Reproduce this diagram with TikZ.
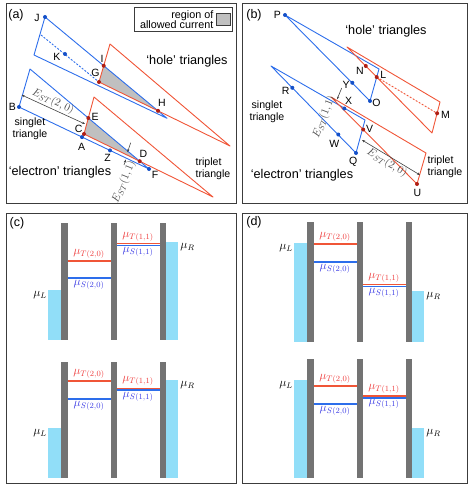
\documentclass[tikz,border=0pt]{standalone}
\usepackage[no-math]{fontspec}
\setmainfont{Liberation Sans}
\usetikzlibrary{arrows.meta}
\definecolor{tblue}{RGB}{45,110,235}
\definecolor{tred}{RGB}{240,85,55}
\definecolor{dotblue}{RGB}{20,80,200}
\definecolor{dotred}{RGB}{175,30,20}
\definecolor{regiongray}{RGB}{192,192,192}
\definecolor{bargray}{RGB}{115,115,115}
\definecolor{leadcyan}{RGB}{145,222,248}
\definecolor{lblred}{RGB}{238,60,60}
\definecolor{lblblue}{RGB}{60,60,228}
\definecolor{framegray}{RGB}{60,60,60}
\newcommand\dqdlevels[8]{%
  \fill[lead] (48,#3) rectangle (61,#2);
  \fill[lead] (166,#4) rectangle (178,#2);
  \fill[barrier] (61,#1) rectangle (67.5,#2);
  \fill[barrier] (110.5,#1) rectangle (117,#2);
  \fill[barrier] (159.5,#1) rectangle (166,#2);
  \draw[tline] (67.5,#5) -- (110.5,#5);
  \draw[sline] (67.5,#6) -- (110.5,#6);
  \draw[tline] (117,#7) -- (159.5,#7);
  \draw[sline] (117,#8) -- (159.5,#8);
  \node[mulabel,text=lblred] (tA) at (89,#5-7) {$\mu_{T(2,0)}$};
  \node[mulabel,text=lblblue] (sA) at (89,#6+7) {$\mu_{S(2,0)}$};
  \node[mulabel,text=lblred] (tB) at (138,#7-7) {$\mu_{T(1,1)}$};
  \node[mulabel,text=lblblue] (sB) at (138,#8+6.5) {$\mu_{S(1,1)}$};
  \node[mulabel] (muL) at (40,#3+5) {$\mu_L$};
  \node[mulabel] (muR) at (187.5,#4+5) {$\mu_R$};
}
\begin{document}
\begin{tikzpicture}[x=1pt,y=-1pt,
  frame/.style={draw=framegray,line width=0.9pt},
  bluetri/.style={draw=tblue,line width=0.9pt,line join=round},
  redtri/.style={draw=tred,line width=0.9pt,line join=round},
  bdot/.style={circle,fill=dotblue,inner sep=0pt,minimum size=4pt},
  rdot/.style={circle,fill=dotred,inner sep=0pt,minimum size=4pt},
  ptlabel/.style={font=\fontsize{10.5}{12}\selectfont,inner sep=0pt},
  biglabel/.style={font=\fontsize{12.7}{14}\selectfont,inner sep=0pt},
  smalllabel/.style={font=\fontsize{10.6}{12.5}\selectfont,inner sep=0pt},
  panellabel/.style={font=\fontsize{12.5}{14}\selectfont,inner sep=0pt},
  gap/.style={draw=black!75,line width=0.6pt,{Stealth[length=3pt,width=2.4pt]}-{Stealth[length=3pt,width=2.4pt]}},
  gapone/.style={draw=black!75,line width=0.6pt,-{Stealth[length=3pt,width=2.4pt]}},
  estlabel/.style={font=\fontsize{11}{13}\selectfont,inner sep=0pt,text=black!70},
  barrier/.style={fill=bargray},
  lead/.style={fill=leadcyan},
  tline/.style={draw=tred,line width=1.6pt},
  sline/.style={draw=tblue,line width=1.6pt},
  mulabel/.style={font=\fontsize{12}{14}\selectfont,inner sep=0pt},
]
\useasboundingbox (0,0) rectangle (471,484);
% ---------------- frames
\draw[frame] (6.5,3) rectangle (236,203);
\draw[frame] (242,3) rectangle (467,203);
\draw[frame] (6.5,213) rectangle (236,483);
\draw[frame] (242,213) rectangle (467,483);
\node[panellabel] (la) at (16,15) {(a)};
\node[panellabel] (lb) at (254,15) {(b)};
\node[panellabel] (lc) at (17,223) {(c)};
\node[panellabel] (ld) at (254,222) {(d)};

% ================= panel (a): hole triangles
\coordinate (hJv) at (45,17);
\coordinate (hBL) at (34,55);
\coordinate (hTip) at (167,118.3);
\coordinate (hrTop) at (110,44);
\coordinate (hG) at (99,82);
\coordinate (hrTip) at (230,146);
\coordinate (hDs) at (41,35);
\coordinate (hI) at (intersection of hrTop--hG and hJv--hTip);
\coordinate (hH) at (intersection of hG--hrTip and hJv--hTip);
\fill[regiongray] (hG) -- (hI) -- (hH) -- cycle;
\draw[bluetri] (hJv) -- (hBL) -- (hTip) -- cycle;
\draw[redtri] (hrTop) -- (hG) -- (hrTip) -- cycle;
\draw[bluetri,dash pattern=on 2pt off 1.5pt] (hDs) -- (hG);
\node[bdot] (J) at (hJv) {};
\node[bdot] (K) at (65,54) {};
\node[rdot] (I) at (hI) {};
\node[rdot] (G) at (hG) {};
\node[rdot] (H) at (hH) {};
\node[ptlabel] (Jl) at (37,18) {J};
\node[ptlabel] (Kl) at (57,57) {K};
\node[ptlabel] (Il) at (102,58.5) {I};
\node[ptlabel] (Gl) at (95.5,73) {G};
\node[ptlabel] (Hl) at (162,103) {H};
\node[biglabel] (holeA) at (187,61) {‘hole’ triangles};

% ================= panel (a): electron triangles
\coordinate (eTop) at (30,69);
\coordinate (eBv) at (19,107);
\coordinate (eFv) at (149,169);
\coordinate (erTop) at (94,97);
\coordinate (eCv) at (84,134);
\coordinate (erTip) at (213,197);
\coordinate (eE) at (intersection of erTop--eCv and eTop--eFv);
\coordinate (eD) at (intersection of eCv--erTip and eTop--eFv);
\fill[regiongray] (eCv) -- (eE) -- (eD) -- cycle;
\draw[bluetri] (eTop) -- (eBv) -- (eFv) -- cycle;
\draw[redtri] (erTop) -- (eCv) -- (erTip) -- cycle;
\node[bdot] (B) at (eBv) {};
\node[bdot] (F) at (eFv) {};
\node[bdot] (A) at (82,137.1) {};
\node[bdot] (Z) at (110,150.4) {};
\node[rdot] (C) at (eCv) {};
\node[rdot] (E) at (eE) {};
\node[rdot] (D) at (eD) {};
\node[ptlabel] (Bl) at (12.3,107) {B};
\node[ptlabel] (El) at (95,117.3) {E};
\node[ptlabel] (Cl) at (78.7,129) {C};
\node[ptlabel] (Al) at (81.7,147.3) {A};
\node[ptlabel] (Zl) at (107.7,157.7) {Z};
\node[ptlabel] (Dl) at (143.3,154) {D};
\node[ptlabel] (Fl) at (155,175) {F};
% gaps
\coordinate (g20a) at (21.7,95);
\coordinate (g20b) at (85,124);
\draw[gap] (g20a) -- (g20b);
\node[estlabel,rotate=-24.6] (est20a) at (53,101.5) {$E_{ST}(2,0)$};
\coordinate (g11a) at (130.7,142.7);
\coordinate (g11b) at (127.5,152.2);
\coordinate (g11c) at (124,165);
\coordinate (g11d) at (125.8,159.6);
\draw[gapone] (g11a) -- (g11b);
\draw[gapone] (g11c) -- (g11d);
\node[estlabel,rotate=67.5] (est11a) at (124,182) {$E_{ST}(1,1)$};
\node[smalllabel,align=center] (singA) at (30,129) {singlet\\triangle};
\node[smalllabel,align=left] (tripA) at (213,169) {triplet\\triangle};
\node[biglabel] (elecA) at (60,172) {‘electron’ triangles};
% legend
\node[draw=framegray,line width=0.8pt,minimum width=97.6pt,minimum height=24.4pt,inner sep=0pt,fill=white] (legend) at (183.5,19.5) {};
\node[font=\fontsize{10.8}{10.2}\selectfont,align=right,anchor=east,inner sep=0pt] (legtext) at (213.5,19.7) {region of\\allowed current};
\node[draw=framegray,fill=regiongray,line width=0.6pt,minimum width=14pt,minimum height=12.4pt,inner sep=0pt] (legsq) at (223.7,19.5) {};

% ================= panel (b): hole triangles
\coordinate (bP) at (285,15);
\coordinate (bO) at (370,101);
\coordinate (bVv) at (379,69);
\coordinate (rA) at (347,47);
\coordinate (rB) at (440,102);
\coordinate (rC) at (432,133);
\coordinate (bL) at (intersection of rA--rC and bO--bVv);
\coordinate (bM) at (437.1,113.3);
\draw[bluetri] (bP) -- (bO) -- (bVv) -- cycle;
\draw[redtri] (rA) -- (rB) -- (rC) -- cycle;
\draw[redtri,dash pattern=on 2pt off 1.5pt] (bL) -- (bM);
\node[bdot] (P) at (bP) {};
\node[bdot] (Y) at (352.3,82.8) {};
\node[bdot] (O) at (bO) {};
\node[rdot] (N) at (365.8,66) {};
\node[rdot] (L) at (bL) {};
\node[rdot] (M) at (bM) {};
\node[ptlabel] (Pl) at (277.3,15) {P};
\node[ptlabel] (Yl) at (346,85.3) {Y};
\node[ptlabel] (Ol) at (376.5,102.7) {O};
\node[ptlabel] (Nl) at (360,70.7) {N};
\node[ptlabel] (Ll) at (383.3,75) {L};
\node[ptlabel] (Ml) at (445.5,115) {M};
\node[biglabel] (holeB) at (386,31) {‘hole’ triangles};

% ================= panel (b): electron triangles
\coordinate (eA) at (271,66);
\coordinate (eQ) at (356,153);
\coordinate (eBr) at (365,120);
\coordinate (rT) at (331,97);
\coordinate (rR) at (426,153);
\coordinate (rU) at (417,184);
\draw[bluetri] (eA) -- (eQ) -- (eBr) -- cycle;
\draw[redtri] (rT) -- (rR) -- (rU) -- cycle;
\node[bdot] (R) at (292.3,87.8) {};
\node[bdot] (W) at (338.3,134.5) {};
\node[bdot] (Q) at (eQ) {};
\node[bdot] (X) at (344.3,108.5) {};
\node[rdot] (V) at (363.2,129.5) {};
\node[rdot] (U) at (rU) {};
\node[ptlabel] (Rl) at (285.7,90.7) {R};
\node[ptlabel] (Xl) at (348.5,100.7) {X};
\node[ptlabel] (Vl) at (369.5,129.3) {V};
\node[ptlabel] (Wl) at (334.3,144.3) {W};
\node[ptlabel] (Ql) at (353.3,161.7) {Q};
\node[ptlabel] (Ul) at (417.3,193.3) {U};
\coordinate (h11a) at (341.7,88);
\coordinate (h11b) at (337,99.5);
\draw[gapone] (h11a) -- (h11b);
\node[estlabel,rotate=69] (est11b) at (324,117) {$E_{ST}(1,1)$};
\coordinate (h20a) at (362,140);
\coordinate (h20b) at (420,175);
\draw[gap] (h20a) -- (h20b);
\node[estlabel,rotate=-31] (est20b) at (387,163) {$E_{ST}(2,0)$};
\node[smalllabel,align=center] (singB) at (267,112) {singlet\\triangle};
\node[smalllabel,align=left] (tripB) at (445,167) {triplet\\triangle};
\node[biglabel] (elecB) at (302,175) {‘electron’ triangles};

% ================= panels (c) and (d)
\begin{scope}[name prefix=c1-]
\dqdlevels{223}{340}{290}{242}{261}{278}{243.5}{245.3}
\end{scope}
\begin{scope}[name prefix=c2-]
\dqdlevels{362}{478}{428}{380}{381}{399}{388.3}{390.1}
\end{scope}
\begin{scope}[xshift=246pt,name prefix=d1-]
\dqdlevels{222}{342}{243}{291}{244}{262}{284.5}{286.3}
\end{scope}
\begin{scope}[xshift=246pt,name prefix=d2-]
\dqdlevels{359}{478}{380}{428}{386}{404}{396}{397.8}
\end{scope}
\end{tikzpicture}
\end{document}
